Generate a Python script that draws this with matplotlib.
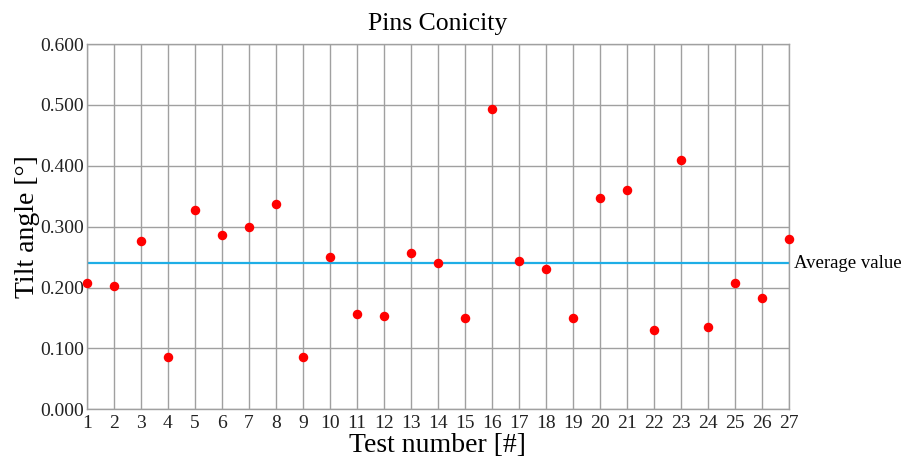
import matplotlib.pyplot as plt

plt.rcParams["font.family"] = ["Liberation Serif", "DejaVu Serif"]

tests = list(range(1, 28))
tilt = [0.207, 0.203, 0.277, 0.086, 0.327, 0.287, 0.300, 0.337, 0.086, 0.251,
        0.156, 0.153, 0.257, 0.240, 0.150, 0.494, 0.244, 0.230, 0.150, 0.347,
        0.360, 0.130, 0.410, 0.136, 0.207, 0.183, 0.280]
average = 0.240
y_ticks = [0.0, 0.1, 0.2, 0.3, 0.4, 0.5, 0.6]

fig = plt.figure(figsize=(9.05, 4.59), dpi=100)
ax = fig.add_axes([0.0961, 0.1083, 0.7754, 0.7957])

ax.set_xlim(1, 27)
ax.set_ylim(0, 0.6)
ax.set_xticks(tests)
ax.set_yticks(y_ticks)
ax.set_yticklabels([f"{v:.3f}" for v in y_ticks])
ax.tick_params(length=0, labelsize=14, colors="#222222")
ax.tick_params(axis="x", pad=4)
ax.tick_params(axis="y", pad=2)
ax.grid(True, color="#a0a0a0", linewidth=1.0)
ax.set_axisbelow(True)
for s in ax.spines.values():
    s.set_color("#a0a0a0")
    s.set_linewidth(1.0)

ax.axhline(average, color="#1eaee6", linewidth=1.6, zorder=2)
ax.scatter(tests, tilt, s=34, color="#ff0000", zorder=3, clip_on=False)

ax.text(27.2, average, "Average value", fontsize=13.5, va="center", ha="left")

ax.set_title("Pins Conicity", fontsize=18.5, pad=10)
ax.set_xlabel("Test number [#]", fontsize=20, labelpad=1)
ax.set_ylabel("Tilt angle [°]", fontsize=20, labelpad=0)

fig.savefig("out.png", dpi=100)
